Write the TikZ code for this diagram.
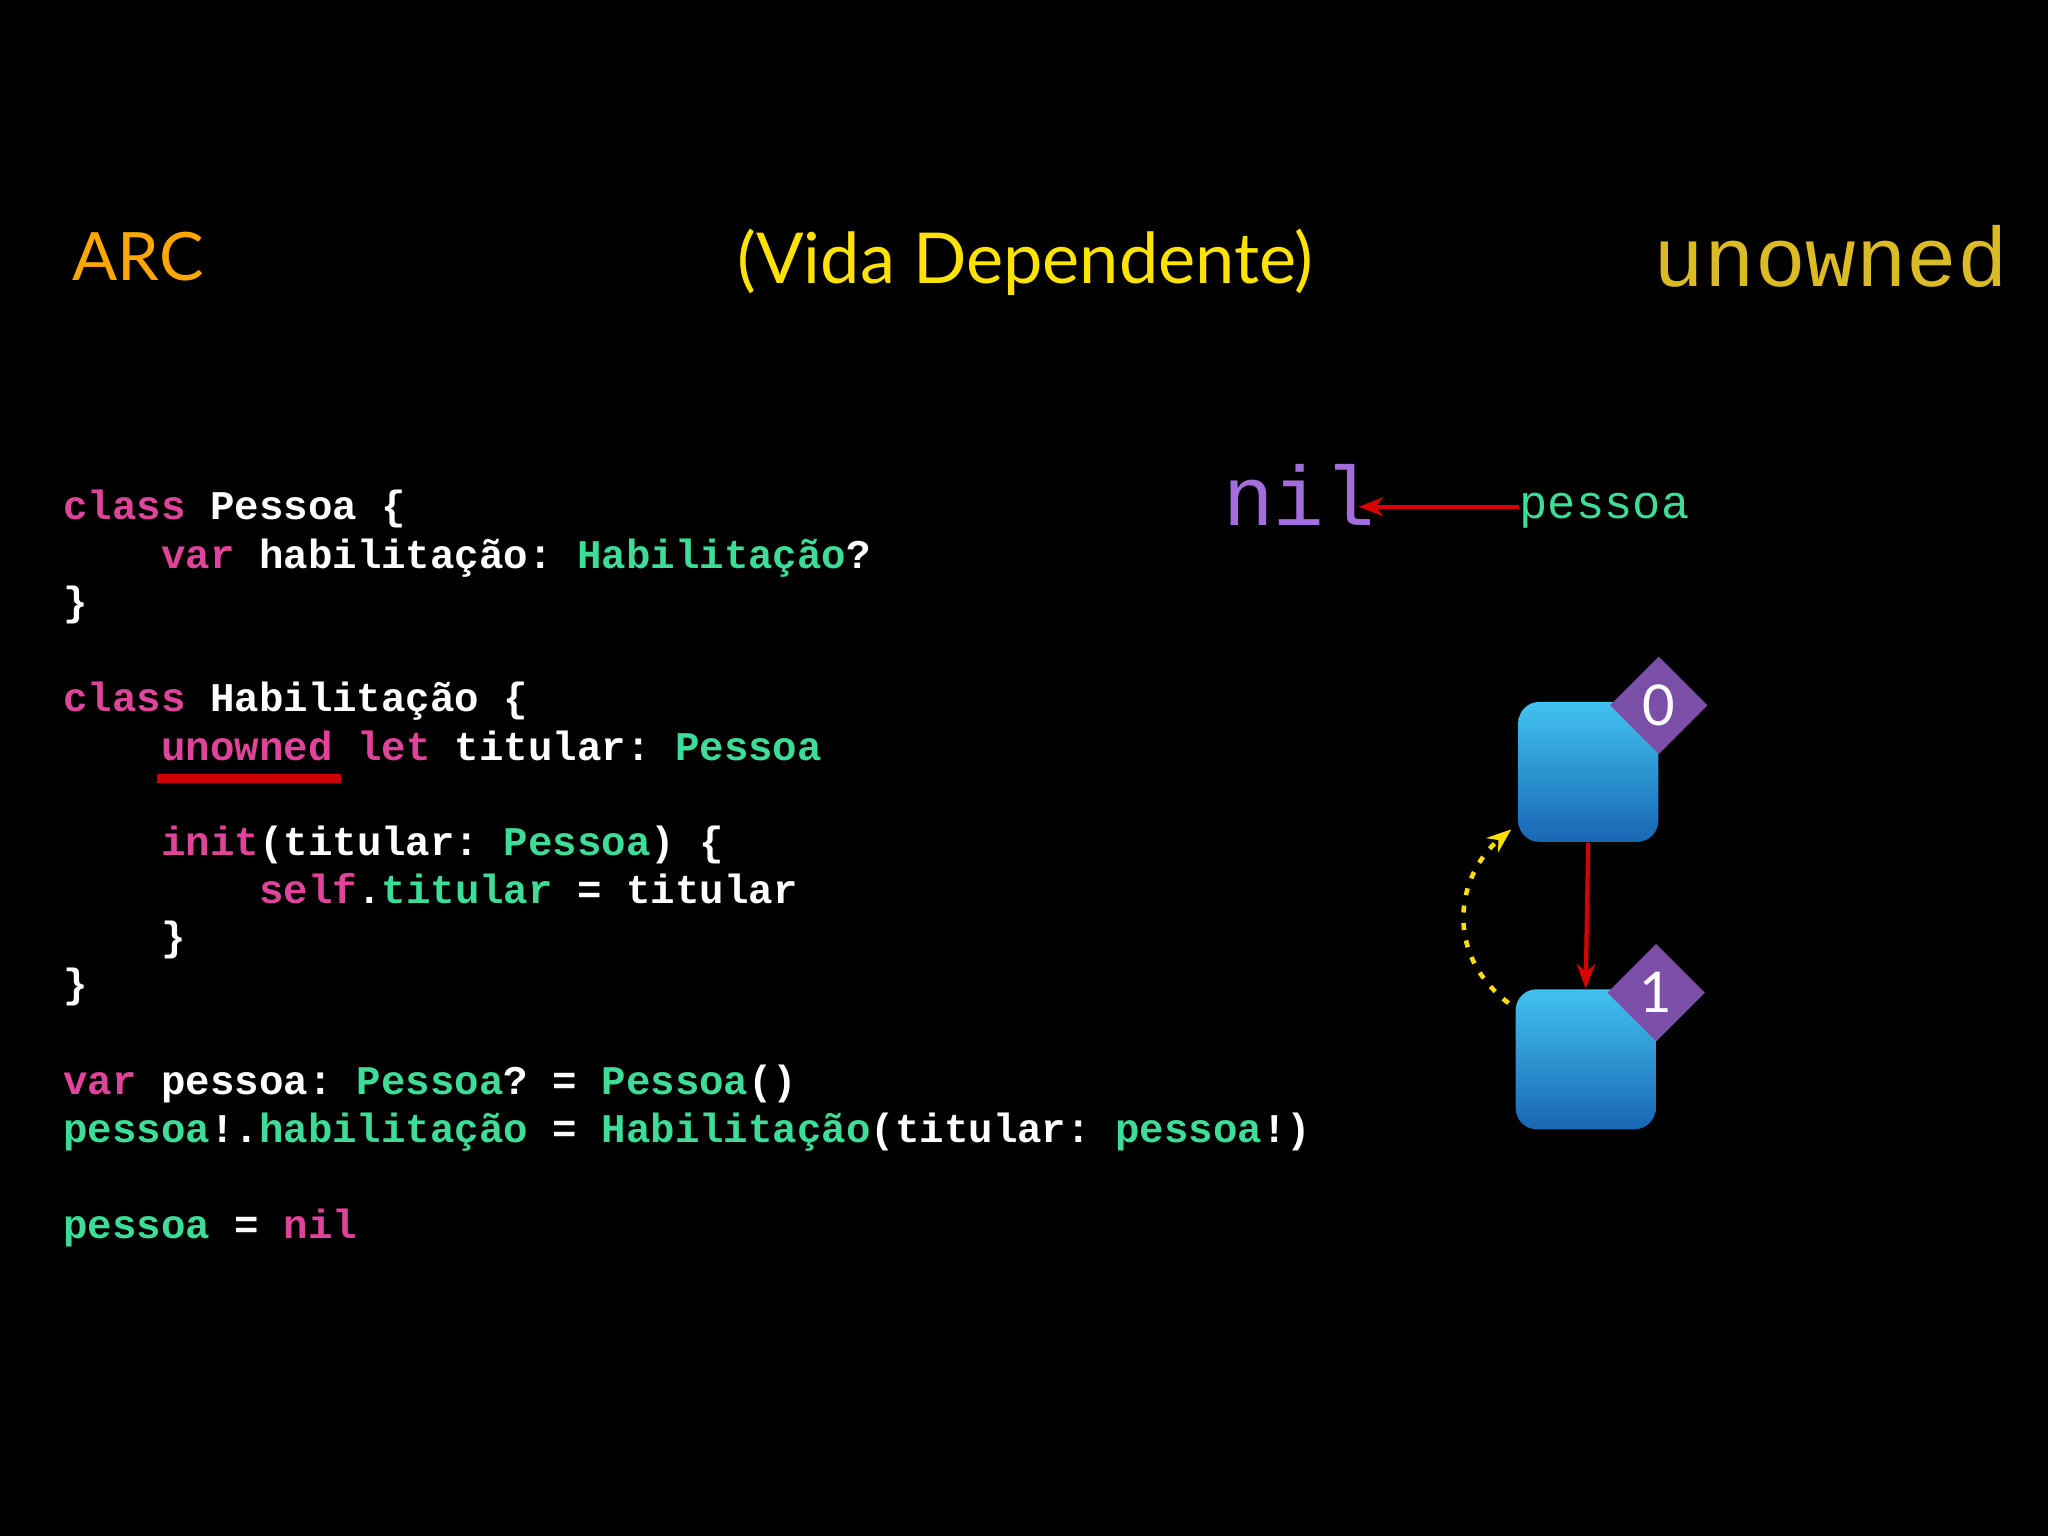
\documentclass[tikz,border=0pt]{standalone}
\usepackage{fontspec}
\setmainfont{Lato}
\setmonofont{Liberation Mono}
\usetikzlibrary{arrows.meta,shapes.geometric}
\definecolor{kw}{HTML}{E0449A}
\definecolor{ty}{HTML}{3DDC97}
\definecolor{nilc}{HTML}{A36EDB}
\definecolor{boxc}{HTML}{1E80E0}
\definecolor{badge}{HTML}{7B4FA8}
\newcommand\kwd[1]{\textcolor{kw}{#1}}
\newcommand\typ[1]{\textcolor{ty}{#1}}
\begin{document}
\begin{tikzpicture}[x=0.013061cm,y=-0.013061cm,
  code/.style={anchor=base west,inner sep=0,text=white,font=\ttfamily\bfseries\fontsize{11.6}{14}\selectfont},
  box/.style={draw=none,rounded corners=6pt,minimum width=1.4cm,minimum height=1.4cm,top color=boxc!60!cyan!80!white,bottom color=boxc!80!black},
  bdg/.style={diamond,fill=badge,minimum size=0.98cm,inner sep=0,text=white,font=\fontsize{16}{16}\selectfont}]
\fill[black] (0,0) rectangle (1568,1176);
\node[anchor=base west,inner sep=0,text=orange!70!yellow,font=\fontsize{19}{20}\selectfont] (arc) at (55,215) {ARC};
\node[anchor=base,inner sep=0,text=yellow!85!orange,font=\fontsize{20}{22}\selectfont] (title) at (785,217) {(Vida Dependente)};
\node[anchor=base east,inner sep=0,text=yellow!70!orange!85!black,font=\ttfamily\fontsize{24}{26}\selectfont] (un) at (1538,219) {unowned};
% code
\node[code] (l1) at (48,398) {\kwd{class} Pessoa \{};
\node[code] (l2) at (123,435) {\kwd{var} habilitação: \typ{Habilitação}?};
\node[code] (l3) at (48,471) {\}};
\node[code] (l4) at (48,545) {\kwd{class} Habilitação \{};
\node[code] (l5) at (123,582) {\kwd{unowned} \kwd{let} titular: \typ{Pessoa}};
\node[code] (l6) at (123,655) {\kwd{init}(titular: \typ{Pessoa}) \{};
\node[code] (l7) at (198,692) {\kwd{self}.\typ{titular} = titular};
\node[code] (l8) at (123,728) {\}};
\node[code] (l9) at (48,764) {\}};
\node[code] (l10) at (48,838) {\kwd{var} pessoa: \typ{Pessoa}? = \typ{Pessoa}()};
\node[code] (l11) at (48,875) {\typ{pessoa}!.\typ{habilitação} = \typ{Habilitação}(titular: \typ{pessoa}!)};
\node[code] (l12) at (48,948) {\typ{pessoa} = \kwd{nil}};
\coordinate (u1) at (120,596); \coordinate (u2) at (261,596);
\draw[line width=2.5pt,red!80!black] (u1) -- (u2);
% diagram
\node[anchor=base west,inner sep=0,text=nilc,font=\ttfamily\fontsize{24}{26}\selectfont] (nil) at (936,402) {nil};
\node[anchor=base west,inner sep=0,text=ty,font=\ttfamily\fontsize{13.4}{15}\selectfont] (pes) at (1163,397) {pessoa};
\draw[-{Stealth[length=7pt]},red!85!black,line width=1.2pt] (pes.west|-0,388) -- (1040,388);
\node[box] (b0) at (1216,591) {};
\node[box] (b1) at (1214,811) {};
\node[bdg] (d0) at (1270,540) {0};
\node[bdg] (d1) at (1268,760) {1};
\draw[-{Stealth[length=7pt]},red!85!black,line width=1.2pt] (b0.south) -- (b1.north);
\coordinate (c1) at (1155,768);
\coordinate (c2) at (1157,635);
\draw[-{Stealth[length=7pt]},yellow!80!orange,line width=1.3pt,dash pattern=on 2pt off 3pt] (c1) .. controls (1105,730) and (1115,670) .. (c2);
\end{tikzpicture}
\end{document}
